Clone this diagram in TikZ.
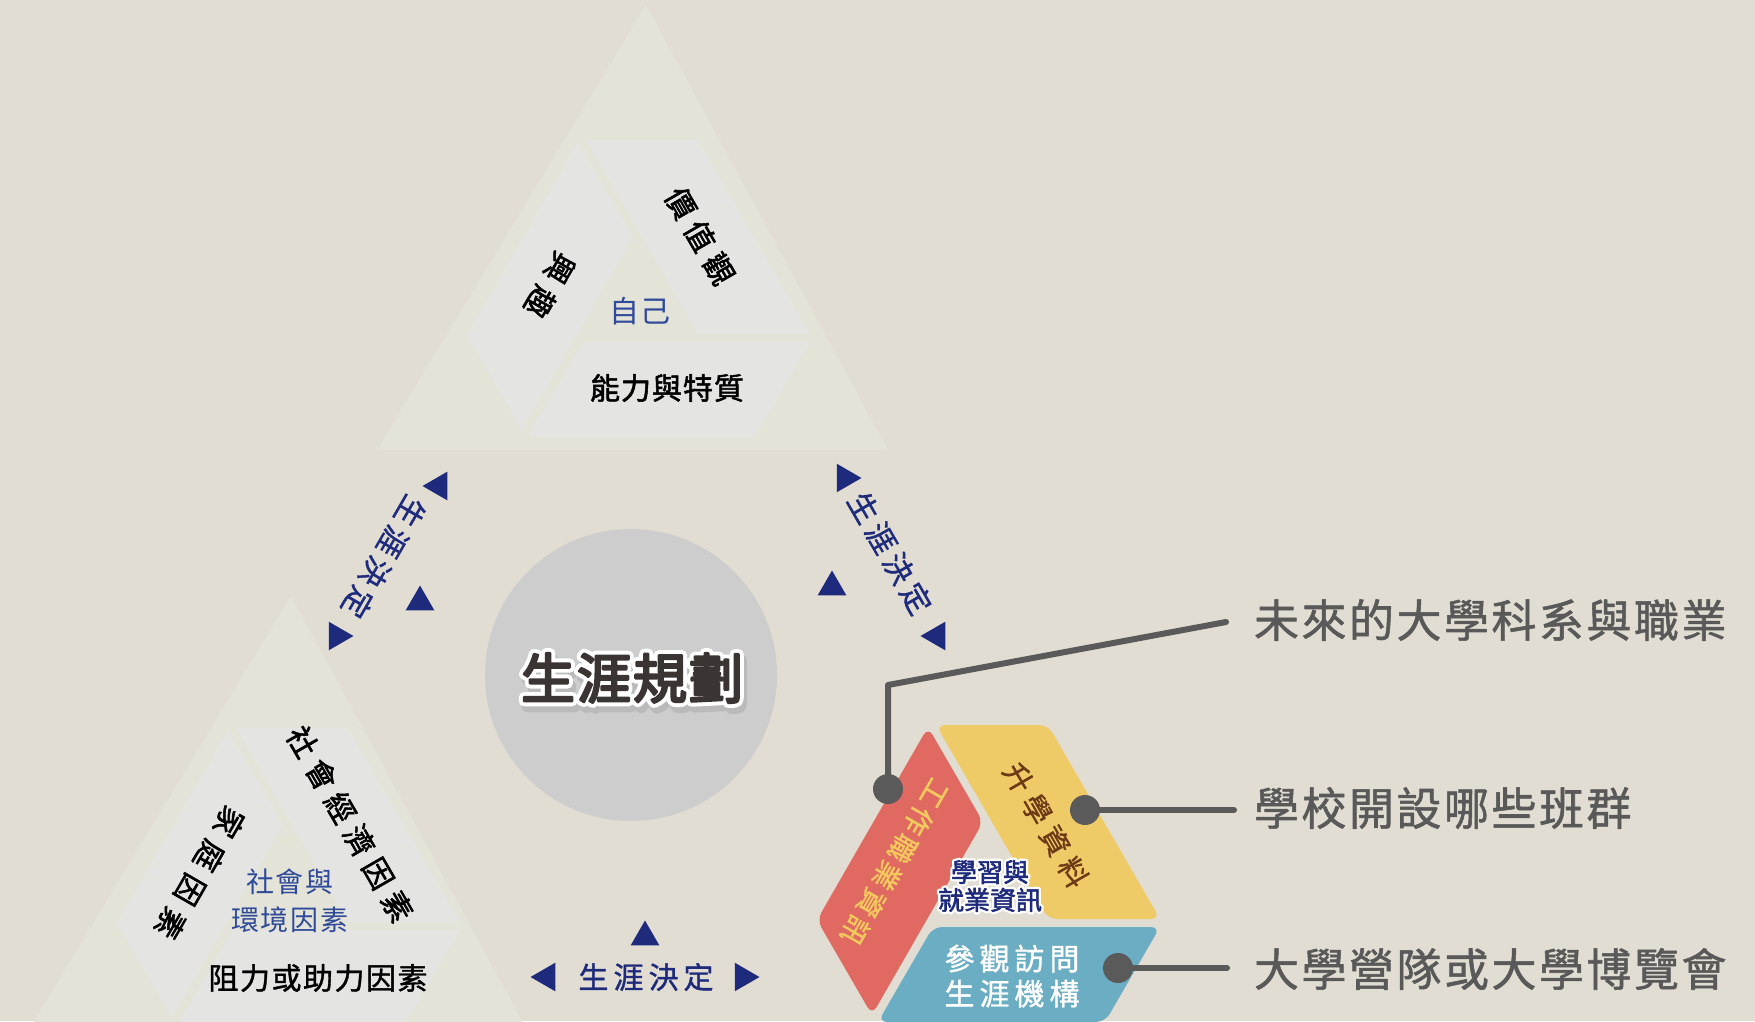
\documentclass[tikz,border=0pt]{standalone}
\usepackage{fontspec}
\setmainfont{Noto Sans CJK TC}
\newfontfamily\cjkreg{Noto Sans CJK TC}
\newfontfamily\cjkmed[FakeBold=1.2]{Noto Sans CJK TC}
\newfontfamily\cjkblk[FakeBold=1.8]{Noto Sans CJK TC}
\newfontfamily\cjkbold[FakeBold=2.2]{Noto Sans CJK TC}
\newfontfamily\cjkheavy[FakeBold=4.5]{Noto Sans CJK TC}
\newfontfamily\cjkplanout[FakeBold=19]{Noto Sans CJK TC}
\newfontfamily\cjkinfoout[FakeBold=20]{Noto Sans CJK TC}
\newcommand\myfs[2]{\fontsize{#1pt}{#2pt}\selectfont}
\definecolor{bgc}{HTML}{E2DDD2}
\definecolor{tric}{HTML}{E3E4D7}
\definecolor{piecec}{HTML}{E4E4E2}
\definecolor{circc}{HTML}{CDCDCD}
\definecolor{navy}{HTML}{1E2B7C}
\definecolor{selfblue}{HTML}{2F4A9A}
\definecolor{redc}{HTML}{E06A62}
\definecolor{yelc}{HTML}{EFCB67}
\definecolor{bluc}{HTML}{6BADC3}
\definecolor{leadc}{HTML}{5A5A5A}
\definecolor{labelc}{HTML}{595959}
\definecolor{yeltxt}{HTML}{F4CA5E}
\definecolor{browntxt}{HTML}{6B3A17}
\definecolor{darktxt}{HTML}{3A3433}
\definecolor{shadowc}{HTML}{BABABA}
\newcommand\ddpieces[3]{%
  \fill[#1] (586,140) -- (698,140) -- (810,334) -- (698,334) -- cycle;
  \fill[#2] (578,142) -- (633,237) -- (522,430) -- (467,335) -- cycle;
  \fill[#3] (583,342) -- (810,342) -- (755,437) -- (528,437) -- cycle;}
\newcommand\navytri[4]{\coordinate (#1) at (#2,#3);
  \fill[navy,shift={(#1)}] (-#4:16.5) -- (-#4+120:16.5) -- (-#4-120:16.5) -- cycle;}
\begin{document}
\begin{tikzpicture}[x=1pt,y=-1pt,line join=round,
  txt/.style={inner sep=0pt,outer sep=0pt},
  blacklab/.style={txt,text=black,font=\cjkblk\myfs{30}{36}},
  declab/.style={txt,text=navy,font=\cjkmed\myfs{30}{36}},
  lead/.style={draw=leadc,line width=6pt,line cap=round,line join=round},
  dot/.style={circle,fill=leadc,minimum size=30pt,inner sep=0pt},
  rlab/.style={txt,anchor=west,text=labelc,font=\cjkmed\myfs{45}{50}}]
\useasboundingbox (0,0) rectangle (1755,1021);
\fill[bgc] (0,0) rectangle (1755,1021);
\clip (0,0) rectangle (1755,1021);
% top group
\fill[tric] (646,5) -- (888,450) -- (377,450) -- cycle;
\ddpieces{piecec}{piecec}{piecec}
% lower-left group
\fill[tric] (291,596) -- (533,1041) -- (22,1041) -- cycle;
\begin{scope}[shift={(-350,588)}]
  \ddpieces{piecec}{piecec}{piecec}
\end{scope}
% coloured trio
\begin{scope}[shift={(350,585)},rounded corners=9pt]
  \ddpieces{yelc}{redc}{bluc}
\end{scope}
% centre circle
\node[circle,fill=circc,minimum size=292pt,inner sep=0pt] (plan) at (631,675) {};
\node[txt,text=shadowc,font=\cjkplanout\myfs{54}{60}] (planshadow) at (635,684)
  {生\kern2pt涯\kern2pt規\kern2pt劃};
\node[txt,text=white,font=\cjkplanout\myfs{54}{60}] (planout) at (632,678)
  {生\kern2pt涯\kern2pt規\kern2pt劃};
\node[txt,text=darktxt,font=\cjkheavy\myfs{54}{60}] (plantext) at (632,678)
  {生\kern2pt涯\kern2pt規\kern2pt劃};
% top group texts
\node[blacklab,rotate=-60] (values) at (700,236) {價\kern8pt值\kern8pt觀};
\node[blacklab,rotate=-120] (interest) at (550,285) {興\kern9pt趣};
\node[txt,text=selfblue,font=\cjkreg\myfs{30}{36}] (self) at (640,311) {自\kern2pt己};
\node[blacklab] (ability) at (667,388) {能\kern1pt力\kern1pt與\kern1pt特\kern1pt質};
% lower group texts
\node[blacklab,rotate=-60] (socio) at (350,824) {社\kern8pt會\kern8pt經\kern8pt濟\kern8pt因\kern8pt素};
\node[blacklab,rotate=-120] (family) at (200,873) {家\kern9pt庭\kern9pt因\kern9pt素};
\node[txt,text=selfblue,align=center,font=\cjkreg\myfs{28}{38}] (env) at (290,901)
  {社\kern2pt會\kern2pt與\\環\kern2pt境\kern2pt因\kern2pt素};
\node[txt,text=black,font=\cjkmed\myfs{30}{36}] (force) at (318,978)
  {阻\kern1.5pt力\kern1.5pt或\kern1.5pt助\kern1.5pt力\kern1.5pt因\kern1.5pt素};
% career decision labels and arrows
\node[declab,rotate=-120] (decL) at (384,557) {生\kern5pt涯\kern5pt決\kern5pt定};
\node[declab,rotate=-60] (decR) at (890,553) {生\kern5pt涯\kern5pt決\kern5pt定};
\node[declab] (decB) at (646,977) {生\kern5pt涯\kern5pt決\kern5pt定};
\navytri{t1}{439}{486}{180}
\navytri{t2}{420}{602}{90}
\navytri{t3}{337}{636}{0}
\navytri{t4}{845}{478}{0}
\navytri{t5}{832}{587}{90}
\navytri{t6}{937}{636}{180}
\navytri{t7}{645}{937}{90}
\navytri{t8}{547}{977}{180}
\navytri{t9}{743}{977}{0}
% trio texts
\node[txt,rotate=-120,text=yeltxt,font=\cjkmed\myfs{28}{32}] (work) at (895,862)
  {工\kern3.6pt作\kern3.6pt職\kern3.6pt業\kern3.6pt資\kern3.6pt訊};
\node[txt,rotate=-60,text=browntxt,font=\cjkmed\myfs{29}{32}] (study) at (1046,825)
  {升\kern7.5pt學\kern7.5pt資\kern7.5pt料};
\node[txt,text=white,align=center,font=\cjkmed\myfs{30}{35}] (visit) at (1012,976)
  {參\kern5pt觀\kern5pt訪\kern5pt問\\生\kern5pt涯\kern5pt機\kern5pt構};
\node[txt,text=white,align=center,font=\cjkinfoout\myfs{26}{28}] (infoout) at (990,886)
  {學習與\\就業資訊};
\node[txt,text=navy,align=center,font=\cjkbold\myfs{26}{28}] (info) at (990,886)
  {學習與\\就業資訊};
% leader lines
\node[dot] (d1) at (888,789) {};
\node[dot] (d2) at (1085,810) {};
\node[dot] (d3) at (1118,968) {};
\node[rlab] (l1) at (1254,620) {未\kern2.5pt來\kern2.5pt的\kern2.5pt大\kern2.5pt學\kern2.5pt科\kern2.5pt系\kern2.5pt與\kern2.5pt職\kern2.5pt業};
\node[rlab] (l2) at (1254,808) {學\kern2.5pt校\kern2.5pt開\kern2.5pt設\kern2.5pt哪\kern2.5pt些\kern2.5pt班\kern2.5pt群};
\node[rlab] (l3) at (1254,969) {大\kern2.5pt學\kern2.5pt營\kern2.5pt隊\kern2.5pt或\kern2.5pt大\kern2.5pt學\kern2.5pt博\kern2.5pt覽\kern2.5pt會};
\coordinate (k1) at (888,685);
\coordinate (e1) at (1226,622);
\coordinate (e2) at (1234,810);
\coordinate (e3) at (1227,968);
\draw[lead] (d1.center) -- (k1) -- (e1);
\draw[lead] (d2.center) -- (e2);
\draw[lead] (d3.center) -- (e3);
\end{tikzpicture}
\end{document}
